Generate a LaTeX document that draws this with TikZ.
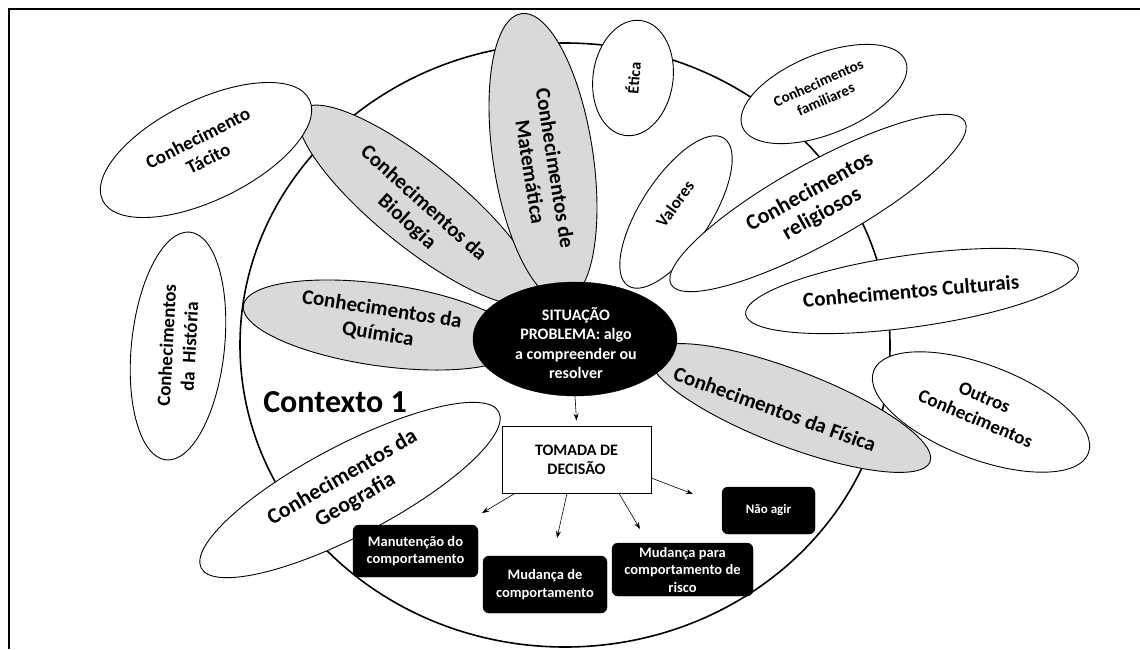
\documentclass[tikz,border=0pt]{standalone}
\usepackage{fontspec}
\setmainfont{Carlito}
\usetikzlibrary{shapes.geometric,arrows.meta}
\definecolor{petalgray}{RGB}{217,217,217}
\newcommand{\myfs}[2]{\fontsize{#1}{#2}\selectfont}
\begin{document}
\begin{tikzpicture}[x=1pt,y=1pt,
  petal/.style={ellipse,draw,line width=0.9pt,fill=petalgray,inner sep=0pt},
  wpetal/.style={ellipse,draw,line width=0.9pt,fill=white,inner sep=0pt},
  lbl/.style={font=\bfseries,align=center,inner sep=0pt},
  outcome/.style={draw=black,fill=black,text=white,rounded corners=6pt,font=\bfseries\myfs{14.5}{17.5},align=center,inner sep=0pt},
  arr/.style={-{Stealth[length=7pt,width=5pt]},line width=0.6pt}]
\useasboundingbox (0,0) rectangle (1140,-649);
% frame
\draw[line width=1.3pt] (9,-649) -- (9,-9) -- (1140,-9);
% context
\node[ellipse,draw,line width=1.6pt,minimum width=650,minimum height=604,inner sep=0pt] (ctx) at (565,-345) {};
% petals
\node[petal,minimum width=300,minimum height=84,rotate=-39] (bio) at (418,-205) {};
\node[wpetal,minimum width=230,minimum height=100,rotate=26] (tac) at (206,-150) {};
\node[petal,minimum width=290,minimum height=100,rotate=-81.4] (mat) at (543,-157) {};
\node[petal,minimum width=280,minimum height=82,rotate=-8] (qui) at (382,-325) {};
\node[petal,minimum width=300,minimum height=76,rotate=-21] (fis) at (790,-408) {};
\node[wpetal,minimum width=336,minimum height=90,rotate=27.7] (geo) at (350,-490) {};
\node[wpetal,minimum width=229,minimum height=93,rotate=84] (his) at (178,-346) {};
\node[wpetal,minimum width=116,minimum height=80,rotate=82] (eti) at (633,-78) {};
\node[wpetal,minimum width=176,minimum height=70,rotate=57] (val) at (676,-212) {};
\node[wpetal,minimum width=176,minimum height=80,rotate=22] (fam) at (824,-94) {};
\node[wpetal,minimum width=336,minimum height=80,rotate=29] (rel) at (818,-203) {};
\node[wpetal,minimum width=336,minimum height=72,rotate=8] (cul) at (912,-291) {};
\node[wpetal,minimum width=230,minimum height=94,rotate=-21] (out) at (981,-412) {};
% labels
\node[lbl,rotate=27,font=\bfseries\myfs{19}{23}] (tac-t) at (203,-148) {Conhecimento\\Tácito};
\node[lbl,rotate=-42,font=\bfseries\myfs{21}{25}] (bio-t) at (415,-213) {Conhecimentos da\\Biologia};
\node[lbl,rotate=-81,font=\bfseries\myfs{21}{25}] (mat-t) at (543,-170) {Conhecimentos de\\Matemática};
\node[lbl,rotate=-9,font=\bfseries\myfs{21}{25}] (qui-t) at (380,-322) {Conhecimentos da\\Química};
\node[lbl,rotate=-20,font=\bfseries\myfs{21}{25}] (fis-t) at (775,-409) {Conhecimentos da Física};
\node[lbl,rotate=30,font=\bfseries\myfs{22}{26}] (geo-t) at (349,-489) {Conhecimentos da\\Geografia};
\node[lbl,rotate=87,font=\bfseries\myfs{19}{23}] (his-t) at (178,-346) {Conhecimentos\\da~ História};
\node[lbl,rotate=85,font=\bfseries\myfs{16}{19}] (eti-t) at (633,-78) {Ética};
\node[lbl,rotate=54,font=\bfseries\myfs{17}{20}] (val-t) at (675,-204) {Valores};
\node[lbl,rotate=24,font=\bfseries\myfs{15}{18}] (fam-t) at (822,-91) {Conhecimentos\\familiares};
\node[lbl,rotate=29,font=\bfseries\myfs{22}{25}] (rel-t) at (816,-203) {Conhecimentos\\religiosos};
\node[lbl,rotate=5,font=\bfseries\myfs{21}{25}] (cul-t) at (911,-291) {Conhecimentos Culturais};
\node[lbl,rotate=-23,font=\bfseries\myfs{19}{23}] (out-t) at (980,-408) {Outros\\Conhecimentos};
\node[lbl,font=\bfseries\myfs{32}{36}] (ctx-t) at (335,-402) {Contexto 1};
% centre
\node[ellipse,draw,fill=black,minimum width=204,minimum height=114,inner sep=0pt] (sit) at (575,-339) {};
\node[lbl,text=white,font=\bfseries\myfs{16}{19.5}] (sit-t) at (576,-343) {SITUAÇÃO\\PROBLEMA: algo\\a compreender ou\\resolver};
\node[draw,line width=0.7pt,fill=white,minimum width=149,minimum height=67,inner sep=0pt,lbl,font=\bfseries\myfs{16}{19}] (box) at (576.5,-459.5) {TOMADA DE\\DECISÃO};
% outcomes
\node[outcome,minimum width=125,minimum height=52] (o1) at (415.5,-551) {Manutenção do\\comportamento};
\node[outcome,minimum width=124,minimum height=57] (o2) at (545,-584.5) {Mudança de\\comportamento};
\node[outcome,minimum width=141,minimum height=53] (o3) at (682.5,-569.5) {Mudança para\\comportamento de\\risco};
\node[outcome,minimum width=93,minimum height=47,font=\bfseries\myfs{13}{16}] (o4) at (768.5,-510.5) {Não agir};
% arrows
\coordinate (e1) at (482,-513);
\coordinate (e2) at (557,-538);
\coordinate (e3) at (640,-529);
\coordinate (e4) at (693,-494);
\draw[arr] (sit.south) -- ([yshift=5pt]box.north);
\draw[arr] ([xshift=-61.5pt]box.south) -- (e1);
\draw[arr] ([xshift=-9.5pt]box.south) -- (e2);
\draw[arr] ([xshift=42.5pt]box.south) -- (e3);
\draw[arr] ([yshift=-18.5pt]box.east) -- (e4);
\end{tikzpicture}
\end{document}
